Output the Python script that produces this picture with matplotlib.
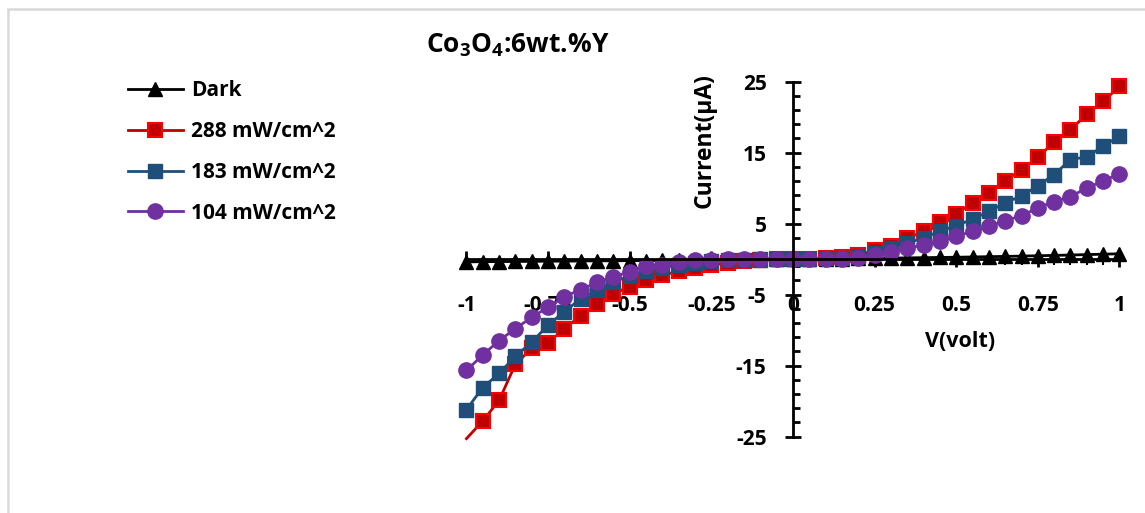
import matplotlib
matplotlib.use('Agg')
import matplotlib.pyplot as plt
from matplotlib.patches import Rectangle
from matplotlib.ticker import FixedLocator

plt.rcParams['font.family'] = ['Open Sans', 'DejaVu Sans']
plt.rcParams['font.weight'] = 'bold'
plt.rcParams['mathtext.fontset'] = 'custom'
plt.rcParams['mathtext.rm'] = 'Open Sans'
plt.rcParams['mathtext.bf'] = 'Open Sans:bold'

# bias voltage (V)
volts = [-1.0, -0.95, -0.9, -0.85, -0.8, -0.75, -0.7, -0.65, -0.6, -0.55, -0.5,
         -0.45, -0.4, -0.35, -0.3, -0.25, -0.2, -0.15, -0.1, -0.05, 0.0,
         0.05, 0.1, 0.15, 0.2, 0.25, 0.3, 0.35, 0.4, 0.45, 0.5,
         0.55, 0.6, 0.65, 0.7, 0.75, 0.8, 0.85, 0.9, 0.95, 1.0]

# current (uA)
dark = [-0.40, -0.38, -0.36, -0.35, -0.33, -0.31, -0.30, -0.28, -0.26, -0.25, -0.23,
        -0.21, -0.20, -0.18, -0.16, -0.14, -0.12, -0.10, -0.07, -0.05, 0.0,
        0.02, 0.04, 0.06, 0.08, 0.10, 0.13, 0.16, 0.19, 0.22, 0.25,
        0.29, 0.33, 0.37, 0.41, 0.46, 0.51, 0.56, 0.62, 0.68, 0.74]
i288 = [-25.3, -22.8, -19.9, -14.8, -12.6, -11.8, -9.8, -8.0, -6.4, -4.9, -3.9,
        -3.0, -2.3, -1.7, -1.2, -0.9, -0.5, -0.3, -0.15, -0.05, 0.0,
        0.05, 0.1, 0.25, 0.6, 1.2, 1.9, 2.9, 3.9, 5.2, 6.4,
        7.9, 9.3, 11.0, 12.6, 14.3, 16.5, 18.2, 20.4, 22.2, 24.3]
i183 = [-21.2, -18.1, -16.1, -13.7, -11.7, -9.3, -7.4, -5.6, -4.4, -3.2, -2.4,
        -1.7, -1.2, -0.8, -0.5, -0.3, -0.2, -0.1, -0.05, 0.0, 0.0,
        0.05, 0.1, 0.2, 0.4, 0.9, 1.5, 2.2, 3.0, 3.9, 4.7,
        5.6, 6.7, 7.9, 8.9, 10.3, 11.9, 14.0, 14.4, 15.9, 17.3]
i104 = [-15.7, -13.5, -11.5, -9.8, -8.2, -6.8, -5.3, -4.3, -3.3, -2.5, -1.8,
        -1.0, -0.8, -0.4, -0.2, -0.1, -0.05, 0.0, 0.0, 0.0, 0.0,
        0.0, 0.02, 0.05, 0.2, 0.5, 1.0, 1.5, 2.0, 2.5, 3.2,
        3.9, 4.6, 5.4, 6.1, 7.2, 8.1, 8.8, 10.0, 11.0, 12.0]

x_major = [-1, -0.75, -0.5, -0.25, 0, 0.25, 0.5, 0.75, 1]
x_labels = ['-1', '-0.75', '-0.5', '-0.25', '0', '0.25', '0.5', '0.75', '1']
y_major = [-25, -15, -5, 5, 15, 25]

fig = plt.figure(figsize=(11.45, 5.13), dpi=100)
ax = fig.add_axes([0.4074, 0.1491, 0.5703, 0.692])

# chart area border (only left/top edges fall inside the picture)
fig.patches.append(Rectangle((8 / 1145, -0.2), 1.2, 1.2 - 9 / 513, transform=fig.transFigure,
                             fill=False, edgecolor='#d9d9d9', linewidth=1.8))

ax.plot(volts, dark, color='black', lw=2, marker='^', ms=9.5, label='Dark', clip_on=False)
ax.plot(volts, i288, color='#c00000', lw=2, marker='s', ms=10.5, mfc='#c00000', mec='#ff0000',
        mew=1.5, markevery=list(range(1, len(volts))), label='288 mW/cm^2', clip_on=False)
ax.plot(volts, i183, color='#1f4e79', lw=2, marker='s', ms=10.5, mfc='#1f4e79', mec='#1f4e79',
        label='183 mW/cm^2', clip_on=False)
ax.plot(volts, i104, color='#7030a0', lw=2, marker='o', ms=11, mfc='#7030a0', mec='#7030a0',
        label='104 mW/cm^2', clip_on=False)

ax.set_xlim(-1, 1)
ax.set_ylim(-25, 25)
for s in ['top', 'right']:
  ax.spines[s].set_visible(False)
ax.spines['left'].set_position(('data', 0))
ax.spines['bottom'].set_position(('data', 0))
ax.spines['left'].set_linewidth(2)
ax.spines['bottom'].set_linewidth(2)

ax.set_xticks(x_major)
ax.set_xticklabels(x_labels)
ax.xaxis.set_minor_locator(FixedLocator(volts))
ax.set_yticks(y_major)
ax.set_yticklabels([str(v) for v in y_major])
ax.yaxis.set_minor_locator(FixedLocator([v for v in range(-25, 26, 2) if v not in y_major]))

ax.tick_params(axis='both', which='major', direction='inout', length=12, width=2, labelsize=15)
ax.tick_params(axis='y', which='minor', direction='in', length=5, width=2)
ax.tick_params(axis='x', which='minor', direction='out', length=4, width=1.5)
ax.tick_params(axis='x', which='major', pad=20)
ax.tick_params(axis='y', which='major', pad=13)
for lab in ax.get_xticklabels() + ax.get_yticklabels():
  lab.set_fontweight('bold')

ax.set_ylabel('Current(μA)', fontsize=16.5, fontweight='bold')
ax.yaxis.set_label_coords(0.383, 0.835)
ax.set_xlabel('V(volt)', fontsize=15.5, fontweight='bold')
ax.xaxis.set_label_coords(0.756, 0.297)

fig.text(518 / 1145, 1 - 45 / 513, r'Co$_\mathbf{3}$O$_\mathbf{4}$:6wt.%Y', fontsize=19,
         fontweight='bold', ha='center', va='center')

fig.legend(loc='upper left', bbox_to_anchor=(120 / 1145, 1 - 72 / 513), frameon=False,
           prop={'size': 15, 'weight': 'bold'}, handlelength=2.6, handletextpad=0.4,
           labelspacing=0.95, borderaxespad=0)

fig.savefig('out.png', dpi=100)
